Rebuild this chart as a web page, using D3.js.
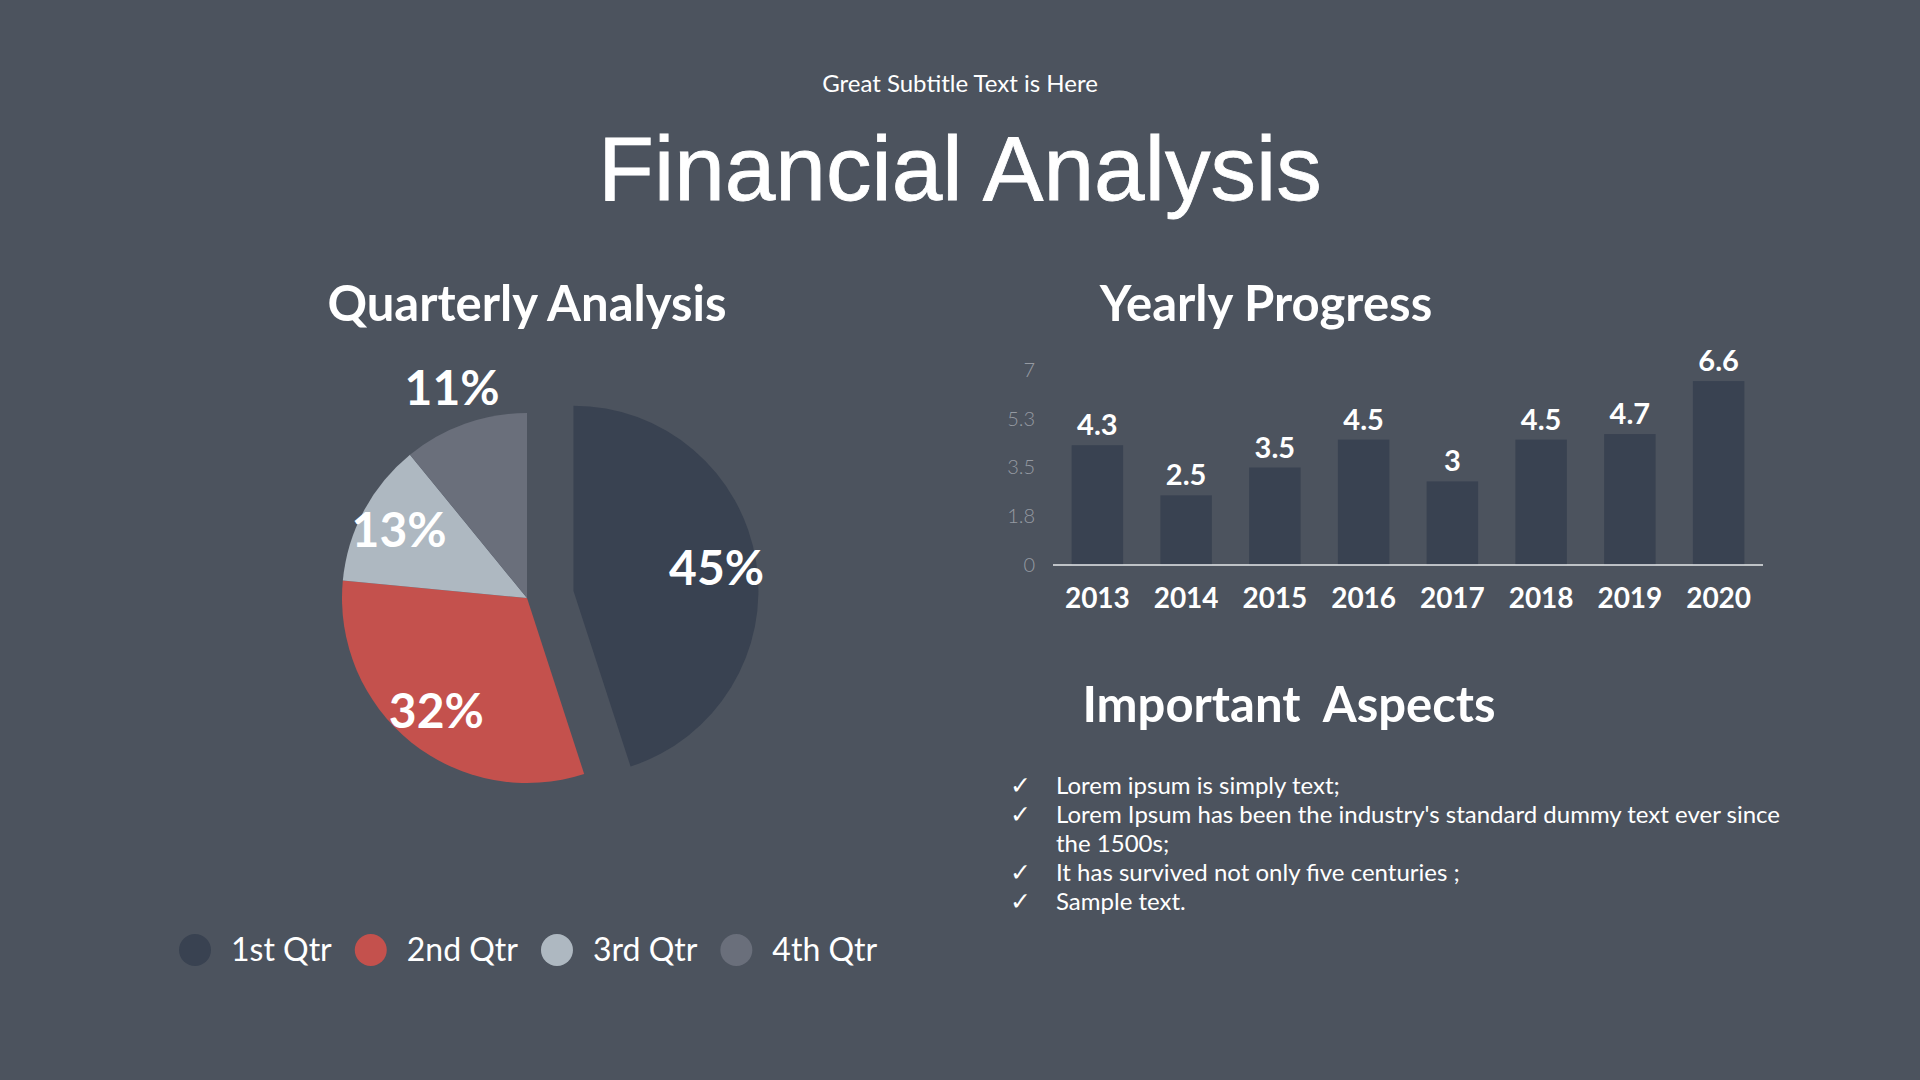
<!DOCTYPE html>
<html>
<head>
<meta charset="utf-8">
<script src="https://cdn.jsdelivr.net/npm/d3@7"></script>
<style>
  html, body { margin: 0; padding: 0; background: #4c535e; }
  svg { display: block; }
</style>
</head>
<body>
<svg id="chart" width="1920" height="1080"></svg>
<script>
// ---- Data ----
const quarters = ["1st Qtr", "2nd Qtr", "3rd Qtr", "4th Qtr"];
const quarterShares = [45, 31.5, 12.6, 10.9];
const years = ["2013", "2014", "2015", "2016", "2017", "2018", "2019", "2020"];
const yearValues = [4.3, 2.5, 3.5, 4.5, 3, 4.5, 4.7, 6.6];
const yTickValues = [0, 1.75, 3.5, 5.25, 7];
const yTickLabels = ["0", "1.8", "3.5", "5.3", "7"];
const aspects = [
  ["Lorem ipsum is simply text;"],
  ["Lorem Ipsum has been the industry's standard dummy text ever since", "the 1500s;"],
  ["It has survived not only five centuries ;"],
  ["Sample text."]
];

// ---- Styles ----
const quarterColors = ["#394251", "#c4514d", "#aeb8c1", "#6a6f7b"];
const barColor = "#394251";
const LATO = "Lato, 'Noto Sans', sans-serif";

const svg = d3.select("#chart");
svg.append("rect").attr("width", 1920).attr("height", 1080).attr("fill", "#4c535e");

// Header
svg.append("text").attr("x", 960).attr("y", 92).attr("text-anchor", "middle")
  .attr("fill", "#ffffff").style("font-family", LATO).style("font-size", "24px")
  .text("Great Subtitle Text is Here");
svg.append("text").attr("x", 960).attr("y", 200).attr("text-anchor", "middle")
  .attr("fill", "#ffffff").attr("stroke", "#ffffff").attr("stroke-width", 0.8)
  .style("font-family", "'Liberation Sans', Arial, sans-serif").style("font-size", "91px")
  .text("Financial Analysis");

// Section titles
function sectionTitle(x, y, t) {
  svg.append("text").attr("x", x).attr("y", y).attr("text-anchor", "middle")
    .attr("fill", "#ffffff").style("font-family", LATO).style("font-weight", "700")
    .style("font-size", "49px").text(t);
}
sectionTitle(527, 321, "Quarterly Analysis");
sectionTitle(1266, 321, "Yearly Progress");
sectionTitle(1289, 722, "Important\u00a0 Aspects");

// ---- Pie ----
const cx = 527, cy = 598, R = 185, explode = 47;
const pie = d3.pie().sort(null).value(d => d)(quarterShares);
const arc = d3.arc().innerRadius(0).outerRadius(R);
const pieG = svg.append("g").attr("transform", `translate(${cx},${cy})`);
pie.forEach((p, i) => {
  const mid = (p.startAngle + p.endAngle) / 2;
  const off = i === 0 ? explode : 0;
  const dx = Math.sin(mid) * off, dy = -Math.cos(mid) * off;
  const g = pieG.append("g").attr("transform", `translate(${dx},${dy})`);
  g.append("path").attr("d", arc(p)).attr("fill", quarterColors[i]);
  const lr = (p.endAngle - p.startAngle) < 0.12 * 2 * Math.PI ? 223 : 145;
  g.append("text")
    .attr("x", Math.sin(mid) * lr).attr("y", -Math.cos(mid) * lr)
    .attr("dy", "0.36em").attr("text-anchor", "middle")
    .attr("fill", "#ffffff").style("font-family", LATO).style("font-weight", "700")
    .style("font-size", "48px").text(Math.round(p.data) + "%");
});

// Legend
const legend = svg.append("g");
let lx = 195;
quarters.forEach((q, i) => {
  legend.append("circle").attr("cx", lx).attr("cy", 950).attr("r", 16).attr("fill", quarterColors[i]);
  const t = legend.append("text").attr("x", lx + 36).attr("y", 961)
    .attr("fill", "#ffffff").style("font-family", LATO).style("font-size", "32px").text(q);
  lx = lx + 36 + t.node().getComputedTextLength() + 39;
});

// ---- Bar chart ----
const x = d3.scaleBand().domain(years).range([1053, 1763]).paddingInner(0.42).paddingOuter(0.21);
const y = d3.scaleLinear().domain([0, 7]).range([565, 370]);
const barG = svg.append("g");
barG.selectAll("rect").data(years).join("rect")
  .attr("x", d => x(d)).attr("width", x.bandwidth())
  .attr("y", (d, i) => y(yearValues[i])).attr("height", (d, i) => y(0) - y(yearValues[i]))
  .attr("fill", barColor);
barG.selectAll("text.val").data(years).join("text").attr("class", "val")
  .attr("x", d => x(d) + x.bandwidth() / 2).attr("y", (d, i) => y(yearValues[i]) - 10)
  .attr("text-anchor", "middle").attr("fill", "#ffffff")
  .style("font-family", LATO).style("font-weight", "700").style("font-size", "29px")
  .text((d, i) => yearValues[i]);

const xAxis = d3.axisBottom(x).tickSize(0).tickPadding(0);
const xg = svg.append("g").attr("transform", "translate(0,565)").call(xAxis);
xg.select(".domain").attr("stroke", "#e6e8eb").attr("stroke-width", 1.3).attr("d", "M1053,0H1763");
xg.selectAll("text").attr("y", 43).attr("dy", null).attr("fill", "#ffffff")
  .style("font-family", LATO).style("font-weight", "700").style("font-size", "28px");

const yAxis = d3.axisLeft(y).tickValues(yTickValues).tickSize(0).tickPadding(0)
  .tickFormat((d, i) => yTickLabels[i]);
const yg = svg.append("g").attr("transform", "translate(1035,0)").call(yAxis);
yg.select(".domain").remove();
yg.selectAll("text").attr("fill", "#959aa2").style("font-family", LATO)
  .style("font-weight", "300").style("font-size", "20px");

// ---- Important aspects list ----
const listG = svg.append("g");
let line = 0;
const baseY = 794, lineH = 29;
aspects.forEach(item => {
  listG.append("text").attr("x", 1010).attr("y", baseY + line * lineH)
    .attr("fill", "#ffffff").style("font-family", "'DejaVu Sans', sans-serif")
    .style("font-size", "25px").style("font-weight", "700")
    .text("\u2713");
  item.forEach(l => {
    listG.append("text").attr("x", 1056).attr("y", baseY + line * lineH)
      .attr("fill", "#ffffff").style("font-family", LATO).style("font-size", "24px").text(l);
    line++;
  });
});
</script>
</body>
</html>
